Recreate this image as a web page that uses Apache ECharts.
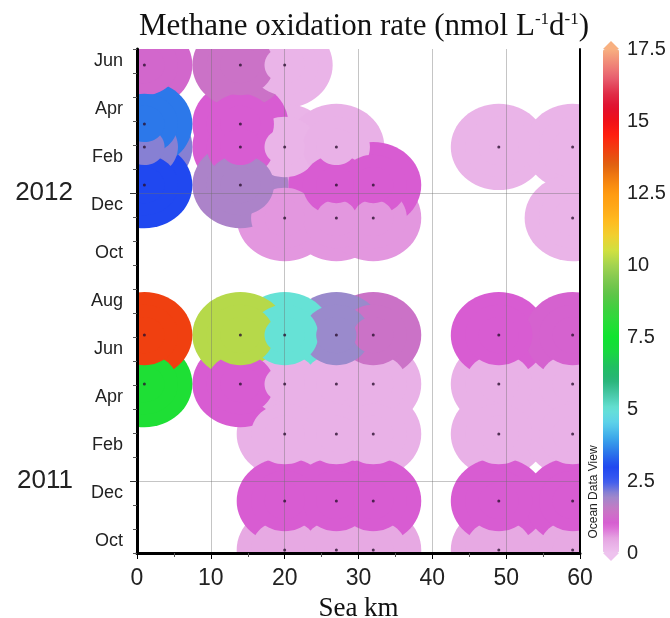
<!DOCTYPE html>
<html>
<head>
<meta charset="utf-8">
<script src="https://cdn.jsdelivr.net/npm/echarts@6.0.0/dist/echarts.min.js"></script>
<style>
  html, body { margin: 0; padding: 0; background: #fff; }
  #chart { width: 670px; height: 618px; }
</style>
</head>
<body>
<div id="chart"></div>
<script>
// sample stations: distance along the sea (km), time (months since 1 Oct 2010), rate
const sampleKm = [
  1, 1, 1, 1, 14, 14, 14, 14, 20, 20, 20, 27, 27, 27, 32, 32, 49, 59, 59,
  1, 1, 14, 14,
  20, 20, 20, 20, 20,
  27, 27, 27, 27, 27,
  32, 32, 32, 32, 32,
  49, 49, 49, 49, 49,
  59, 59, 59, 59, 59
];
const sampleTime = [
  20.33, 17.88, 16.92, 15.33, 20.33, 17.88, 16.92, 15.33, 20.33, 16.92, 13.96,
  16.92, 15.33, 13.96, 15.33, 13.96, 16.92, 16.92, 13.96,
  9.08, 7.04, 9.08, 7.04,
  9.08, 7.04, 4.96, 2.17, 0.13,
  9.08, 7.04, 4.96, 2.17, 0.13,
  9.08, 7.04, 4.96, 2.17, 0.13,
  9.08, 7.04, 4.96, 2.17, 0.13,
  9.08, 7.04, 4.96, 2.17, 0.13
];
const rateValue = [
  1.2, 3.5, 2.1, 3.0, 1.4, 1.0, 1.0, 1.8, 0.25, 0.25, 0.6, 0.3, 1.0, 0.6, 1.0, 0.6, 0.25, 0.25, 0.25,
  14.0, 7.8, 10.2, 1.0,
  5.0, 0.3, 0.3, 1.0, 0.45,
  2.0, 0.3, 0.3, 1.0, 0.45,
  1.4, 0.3, 0.3, 1.0, 0.45,
  1.0, 0.3, 0.3, 1.0, 0.45,
  1.1, 0.3, 0.3, 1.0, 0.45
];

// month labels (placed mid-month) and year labels (at 1 Jan)
const monthTickValues = [0.5, 2.5, 4.5, 6.5, 8.5, 10.5, 12.5, 14.5, 16.5, 18.5, 20.5];
const monthTickLabels = ['Oct', 'Dec', 'Feb', 'Apr', 'Jun', 'Aug', 'Oct', 'Dec', 'Feb', 'Apr', 'Jun'];
const yearTickValues = [3, 15];
const yearTickLabels = ['2011', '2012'];

// ODV-like palette, one colour every 0.5 from 0 to 17.5
const palette = [
  '#eec2ee', '#e6a6e2', '#d85cd2', '#c878c4', '#9a8acc', '#3a5af0', '#2048f0', '#2c78ea',
  '#3ca8ea', '#5cd0ea', '#66e2d6', '#48c8a8', '#28b478', '#20c060', '#18d840', '#10e430',
  '#28dc38', '#40d040', '#60c448', '#80c850', '#a4d450', '#d0e040', '#f0d030', '#ffbc20',
  '#ffa818', '#ff9a10', '#f27e10', '#e06010', '#f04010', '#ff2010', '#f01018', '#e01030',
  '#e0304a', '#e86070', '#f08878', '#f8b080'
];

const samples = sampleKm.map((k, i) => [k, sampleTime[i], rateValue[i]])
  .sort((a, b) => a[2] - b[2]);

const chart = echarts.init(document.getElementById('chart'));

// blob radius in data units (km, months)
const blobRx = 6.5;
const blobRy = 1.8;

function blobLayer(scale) {
  return {
    type: 'custom',
    clip: true,
    data: samples,
    renderItem: (params, api) => {
      const c = api.coord([api.value(0), api.value(1)]);
      const s = api.size([blobRx * scale, blobRy * scale]);
      return {
        type: 'ellipse',
        shape: { cx: c[0], cy: c[1], rx: s[0], ry: s[1] },
        style: { fill: api.visual('color') }
      };
    }
  };
}

const labelFont = 'Liberation Sans, Arial, sans-serif';
const serifFont = 'Liberation Serif, Times New Roman, serif';
const gridLine = { color: 'rgba(110,110,110,0.4)', width: 1 };

chart.setOption({
  animation: false,
  title: {
    text: 'Methane oxidation rate (nmol L{s|-1}d{s|-1})',
    left: 359,
    textAlign: 'center',
    top: 6,
    textStyle: {
      fontFamily: serifFont,
      fontSize: 31,
      fontWeight: 'normal',
      color: '#111',
      rich: {
        s: { fontFamily: serifFont, fontSize: 17, color: '#111', verticalAlign: 'top', lineHeight: 30 }
      }
    }
  },
  grid: [
    { left: 137, right: 90, top: 49, bottom: 65, show: false, outerBoundsMode: 'none' },
    { left: 603, top: 49, width: 16, height: 504, show: false, outerBoundsMode: 'none' }
  ],
  xAxis: [
    {
      type: 'value',
      min: 0,
      max: 60,
      interval: 10,
      z: 10,
      name: 'Sea km',
      nameLocation: 'middle',
      nameGap: 42,
      nameTextStyle: { fontFamily: serifFont, fontSize: 27, color: '#111' },
      axisLine: { show: true, lineStyle: { color: '#000', width: 3 } },
      axisTick: { show: true, length: 6, lineStyle: { color: '#000' } },
      minorTick: { show: true, splitNumber: 2, length: 4, lineStyle: { color: '#555' } },
      axisLabel: { fontFamily: labelFont, fontSize: 23, color: '#222', margin: 14 },
      splitLine: { show: true, lineStyle: gridLine }
    },
    {
      type: 'value',
      position: 'top',
      min: 0,
      max: 60,
      z: 10,
      axisLine: { show: true, lineStyle: { color: '#000', width: 2 } },
      axisTick: { show: false },
      axisLabel: { show: false },
      splitLine: { show: false }
    },
    { gridIndex: 1, type: 'value', show: false, min: 0, max: 1 }
  ],
  yAxis: [
    {
      type: 'value',
      min: 0,
      max: 21,
      interval: 1,
      z: 10,
      axisLine: { show: true, lineStyle: { color: '#000', width: 3 } },
      axisTick: { show: true, length: 4, lineStyle: { color: '#555' } },
      axisLabel: {
        customValues: monthTickValues,
        formatter: (v) => monthTickLabels[monthTickValues.indexOf(v)],
        fontFamily: labelFont,
        fontSize: 18,
        color: '#222',
        margin: 14
      },
      splitLine: { show: false }
    },
    {
      type: 'value',
      position: 'left',
      min: 0,
      max: 21,
      z: 10,
      axisLine: { show: false },
      axisTick: { show: true, customValues: yearTickValues, length: 7, lineStyle: { color: '#333' } },
      axisLabel: {
        customValues: yearTickValues,
        formatter: (v) => yearTickLabels[yearTickValues.indexOf(v)],
        fontFamily: labelFont,
        fontSize: 26,
        color: '#222',
        margin: 64
      },
      splitLine: { show: true, lineStyle: gridLine }
    },
    {
      type: 'value',
      position: 'right',
      min: 0,
      max: 21,
      z: 10,
      axisLine: { show: true, lineStyle: { color: '#000', width: 2 } },
      axisTick: { show: false },
      axisLabel: { show: false },
      splitLine: { show: false }
    },
    {
      gridIndex: 1,
      type: 'value',
      position: 'right',
      min: 0,
      max: 17.5,
      interval: 2.5,
      axisLine: { show: false },
      axisTick: { show: false },
      splitLine: { show: false },
      axisLabel: { fontFamily: labelFont, fontSize: 20, color: '#222', margin: 8 }
    }
  ],
  visualMap: {
    type: 'continuous',
    min: 0,
    max: 17.5,
    dimension: 2,
    seriesIndex: [0, 1, 2],
    calculable: false,
    hoverLink: false,
    orient: 'vertical',
    left: 603,
    top: 49,
    padding: 0,
    itemWidth: 16,
    itemHeight: 504,
    text: null,
    inRange: { color: palette }
  },
  graphic: [
    { type: 'polygon', shape: { points: [[603, 49], [611, 41], [619, 49]] }, style: { fill: '#f8b080' } },
    { type: 'polygon', shape: { points: [[603, 553], [611, 561], [619, 553]] }, style: { fill: '#eec2ee' } },
    {
      type: 'text',
      x: 594,
      y: 492,
      rotation: Math.PI / 2,
      style: {
        text: 'Ocean Data View',
        font: '12px ' + labelFont,
        fill: '#222',
        textAlign: 'center',
        textVerticalAlign: 'middle'
      }
    }
  ],
  series: [
    blobLayer(1),
    blobLayer(0.7),
    blobLayer(0.42),
    {
      type: 'scatter',
      data: samples.map((d) => [d[0], d[1]]),
      symbolSize: 3,
      itemStyle: { color: '#2a1030' },
      z: 10,
      silent: true
    }
  ]
});
</script>
</body>
</html>
